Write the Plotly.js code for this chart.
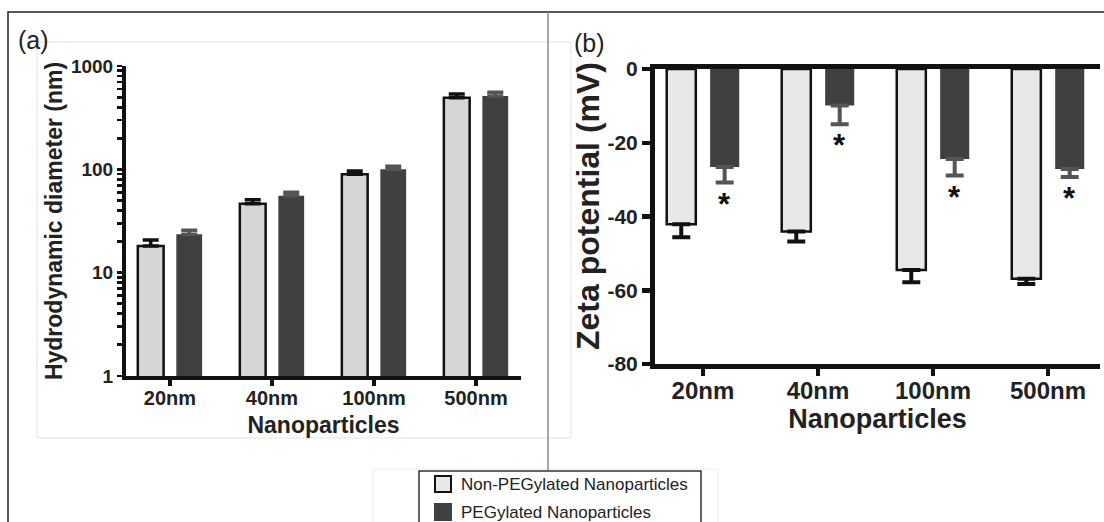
<!DOCTYPE html>
<html><head><meta charset="utf-8">
<script src="https://cdn.plot.ly/plotly-3.0.1.min.js"></script>
<style>html,body{margin:0;padding:0;background:#fff;}#chart{width:1104px;height:522px;}</style>
</head><body><div id="chart"></div>
<script>
// ---- data ----
const categories = ['20nm', '40nm', '100nm', '500nm'];
const seriesNames = ['Non-PEGylated Nanoparticles', 'PEGylated Nanoparticles'];
// (a) hydrodynamic diameter (nm), mean and upper error
const diamNonPeg = [18.1, 46.5, 89.5, 493];
const diamNonPegErr = [2.6, 4.3, 6.9, 43];
const diamPeg = [23.5, 55.6, 100, 513];
const diamPegErr = [2.2, 4.4, 7, 43];
// (b) zeta potential (mV), mean and lower error
const zetaNonPeg = [-42.1, -44.1, -54.5, -56.9];
const zetaNonPegErr = [3.5, 2.7, 3.3, 1.4];
const zetaPeg = [-26.6, -9.9, -24.4, -27.1];
const zetaPegErr = [4.2, 5.1, 4.5, 2.2];
const zetaSignificant = [true, true, true, true];
// tick labels
const logTickVals = [1, 10, 100, 1000];
const logTickText = ['1', '10', '100', '1000'];
const logMinorDigits = [2, 3, 4, 5, 6, 7, 8, 9];
const zetaTickVals = [0, -20, -40, -60, -80];
const zetaTickText = ['0', '-20', '-40', '-60', '-80'];

// ---- style ----
const W = 1104, H = 522;
const FONT = 'Liberation Sans, Arial, Helvetica, sans-serif';
const LIGHT_A = '#d6d6d6', LIGHT_B = '#e8e8e8', DARK = '#404040';
const BARGAP = 0.245, BARGROUPGAP = 0.33;
const px = v => v / W, py = v => 1 - v / H;
const zeros = categories.map(() => 0);

// log axis ticks: majors with labels, minors unlabeled
const logAllVals = [], logAllText = [];
logTickVals.forEach((d, k) => {
  logAllVals.push(d); logAllText.push(logTickText[k]);
  if (k < logTickVals.length - 1) logMinorDigits.forEach(m => { logAllVals.push(m * d); logAllText.push(''); });
});

const traces = [
  {type: 'bar', x: categories, y: diamNonPeg, xaxis: 'x', yaxis: 'y', name: seriesNames[0],
   showlegend: false,
   marker: {color: LIGHT_A, line: {color: '#111', width: 2.5}},
   error_y: {type: 'data', symmetric: false, array: diamNonPegErr, arrayminus: zeros,
             color: '#111', thickness: 3.5, width: 8}},
  {type: 'bar', x: categories, y: diamPeg, xaxis: 'x', yaxis: 'y', name: seriesNames[1],
   showlegend: false,
   marker: {color: DARK, line: {color: DARK, width: 0}},
   error_y: {type: 'data', symmetric: false, array: diamPegErr, arrayminus: zeros,
             color: '#555', thickness: 3.5, width: 8}},
  {type: 'bar', x: categories, y: zetaNonPeg, xaxis: 'x2', yaxis: 'y2', name: seriesNames[0],
   showlegend: false,
   marker: {color: LIGHT_B, line: {color: '#111', width: 2.5}},
   error_y: {type: 'data', symmetric: false, array: zeros, arrayminus: zetaNonPegErr,
             color: '#111', thickness: 4, width: 9}},
  {type: 'bar', x: categories, y: zetaPeg, xaxis: 'x2', yaxis: 'y2', name: seriesNames[1],
   showlegend: false,
   marker: {color: DARK, line: {color: DARK, width: 0}},
   error_y: {type: 'data', symmetric: false, array: zeros, arrayminus: zetaPegErr,
             color: '#555', thickness: 4, width: 9}}
];

const slot = (1 - BARGAP) / 2;
const annotations = [
  {xref: 'paper', yref: 'paper', x: px(33), y: py(40), xanchor: 'center', yanchor: 'middle',
   text: '(a)', showarrow: false, font: {family: FONT, size: 25, color: '#222'}},
  {xref: 'paper', yref: 'paper', x: px(589), y: py(43), xanchor: 'center', yanchor: 'middle',
   text: '(b)', showarrow: false, font: {family: FONT, size: 25, color: '#222'}},
  {xref: 'paper', yref: 'paper', x: px(588), y: py(206), xanchor: 'center', yanchor: 'middle',
   text: 'Zeta potential (mV)', textangle: -90,
   showarrow: false, font: {family: FONT, size: 32, color: '#222', weight: 700}},
  // legend texts
  {xref: 'paper', yref: 'paper', x: px(459), y: py(484), xanchor: 'left', yanchor: 'middle',
   text: seriesNames[0], showarrow: false, font: {family: FONT, size: 17, color: '#222'}},
  {xref: 'paper', yref: 'paper', x: px(459), y: py(512), xanchor: 'left', yanchor: 'middle',
   text: seriesNames[1], showarrow: false, font: {family: FONT, size: 17, color: '#222'}}
];
zetaPeg.forEach((v, i) => {
  if (zetaSignificant[i]) {
    annotations.push({xref: 'x2', yref: 'y2', x: i + slot / 2, y: v - zetaPegErr[i] - 5,
      xanchor: 'center', yanchor: 'middle',
      text: '*', showarrow: false, yshift: -3,
      font: {family: FONT, size: 31, color: '#111', weight: 700}});
  }
});

const shapes = [
  // outer frame
  {type: 'rect', xref: 'paper', yref: 'paper', x0: px(8), x1: 1.02, y0: -0.05, y1: py(12),
   line: {color: '#222', width: 1.5}},
  // faint box around panel a
  {type: 'rect', xref: 'paper', yref: 'paper', x0: px(37), x1: px(571), y0: py(438), y1: py(42),
   line: {color: '#e2e2e2', width: 1}},
  // faint box behind legend
  {type: 'rect', xref: 'paper', yref: 'paper', x0: px(373), x1: px(718), y0: -0.05, y1: py(469),
   line: {color: '#eeeeee', width: 1}},
  // divider
  {type: 'line', xref: 'paper', yref: 'paper', x0: px(548), x1: px(548), y0: py(471), y1: py(12),
   line: {color: '#8a8a8a', width: 1.5}},
  // legend box and keys
  {type: 'rect', xref: 'paper', yref: 'paper', x0: px(419), x1: px(701), y0: -0.05, y1: py(471),
   fillcolor: '#fff', line: {color: '#333', width: 1.5}},
  {type: 'rect', xref: 'paper', yref: 'paper', x0: px(435), x1: px(451), y0: py(492), y1: py(476),
   fillcolor: LIGHT_B, line: {color: '#111', width: 2}},
  {type: 'rect', xref: 'paper', yref: 'paper', x0: px(434), x1: px(452), y0: py(521), y1: py(503),
   fillcolor: DARK, line: {color: DARK, width: 0}}
];

const layout = {
  width: W, height: H,
  margin: {l: 0, r: 0, t: 0, b: 0, autoexpand: false},
  paper_bgcolor: '#fff', plot_bgcolor: 'rgba(0,0,0,0)',
  font: {family: FONT, color: '#111'},
  barmode: 'group', bargap: BARGAP, bargroupgap: BARGROUPGAP,
  showlegend: false,
  xaxis: {domain: [px(126), px(521)], anchor: 'y', type: 'category', range: [-0.431, 3.441],
          showline: true, linecolor: '#111', linewidth: 4, ticks: 'outside', ticklen: 6, tickwidth: 3.5,
          tickcolor: '#111', showgrid: false, zeroline: false, ticklabelstandoff: -5,
          tickfont: {family: FONT, size: 20, color: '#222', weight: 700},
          title: {text: 'Nanoparticles', font: {family: FONT, size: 23, color: '#222', weight: 700}, standoff: 10}},
  yaxis: {domain: [py(376), py(66)], anchor: 'x', type: 'log', range: [0, 3],
          tickmode: 'array', tickvals: logAllVals, ticktext: logAllText,
          showline: true, linecolor: '#111', linewidth: 4, ticks: 'outside', ticklen: 5, tickwidth: 2.8,
          tickcolor: '#111', showgrid: false, zeroline: false,
          tickfont: {family: FONT, size: 19, color: '#222', weight: 700},
          title: {text: 'Hydrodynamic diameter (nm)', font: {family: FONT, size: 23, color: '#222', weight: 700}, standoff: 3}},
  xaxis2: {domain: [px(655), px(1100)], anchor: 'y2', type: 'category', range: [-0.417, 3.452],
           showline: true, mirror: true, linecolor: '#111', linewidth: 5, ticks: 'outside', ticklen: 7, tickwidth: 4.5,
           tickcolor: '#111', showgrid: false, zeroline: false, ticklabelstandoff: -6,
           tickfont: {family: FONT, size: 24, color: '#222', weight: 700},
           title: {text: 'Nanoparticles', font: {family: FONT, size: 27, color: '#222', weight: 700}, standoff: 4}},
  yaxis2: {domain: [py(364), py(69)], anchor: 'x2', range: [-80, 0],
           tickmode: 'array', tickvals: zetaTickVals, ticktext: zetaTickText,
           showline: true, linecolor: '#111', linewidth: 5, ticks: 'outside', ticklen: 8, tickwidth: 4.5,
           tickcolor: '#111', showgrid: false, zeroline: false,
           tickfont: {family: FONT, size: 21, color: '#222', weight: 700}},
  annotations: annotations,
  shapes: shapes
};

Plotly.newPlot('chart', traces, layout, {staticPlot: true, displayModeBar: false});
</script>
</body></html>
